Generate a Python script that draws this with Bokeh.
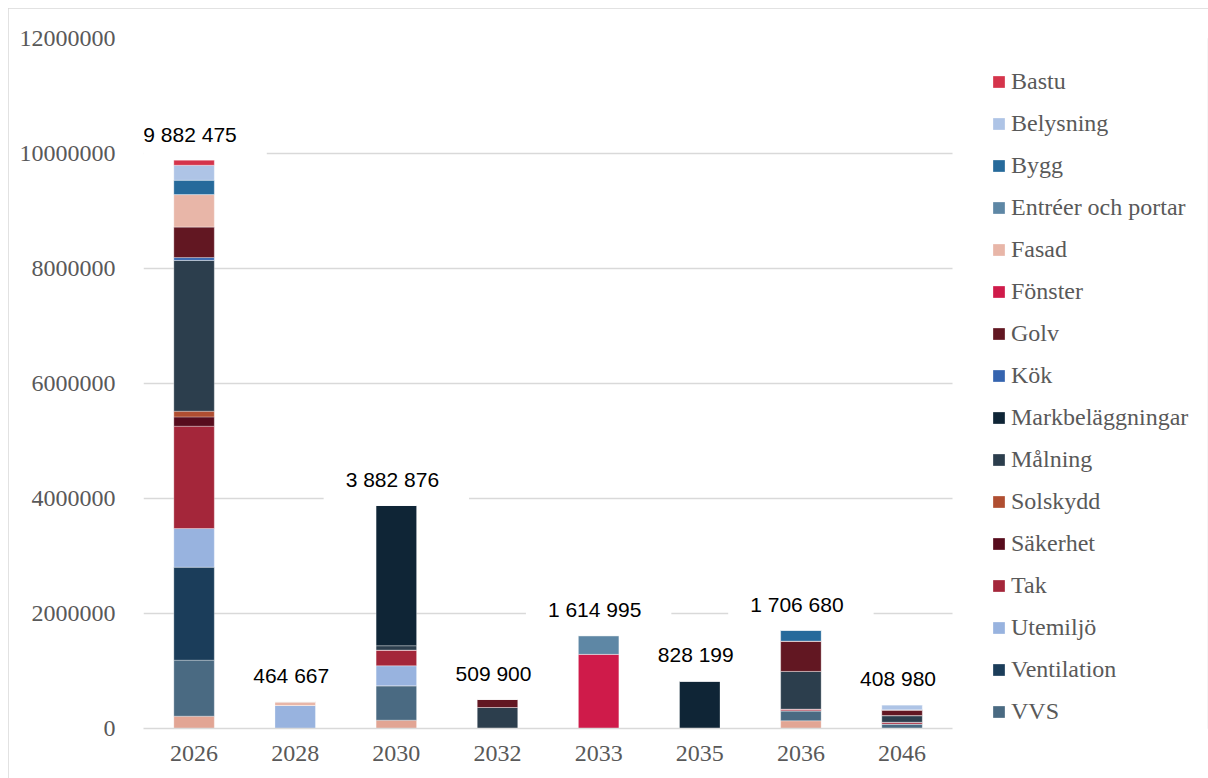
from bokeh.plotting import figure
from bokeh.models import (ColumnDataSource, Range1d, Legend, LegendItem,
                          Label, NumeralTickFormatter, FixedTicker)
from bokeh.embed import file_html
from bokeh.resources import INLINE

years = ["2026", "2028", "2030", "2032", "2033", "2035", "2036", "2046"]

# series values per year (SEK)
bastu       = [87000, 0, 0, 0, 0, 0, 0, 0]
belysning   = [261000, 0, 0, 0, 0, 0, 0, 85000]
bygg        = [249000, 0, 0, 0, 0, 0, 186000, 0]
entreer     = [0, 0, 0, 0, 325000, 0, 0, 0]
fasad       = [562000, 64667, 0, 0, 0, 0, 0, 0]
fonster     = [0, 0, 0, 0, 1289995, 0, 0, 0]
golv        = [534000, 0, 0, 145000, 0, 0, 527680, 100000]
kok         = [47000, 0, 0, 0, 0, 0, 0, 0]
markbel     = [0, 0, 2443876, 0, 0, 828199, 0, 0]
malning     = [2624475, 0, 75000, 364900, 0, 0, 656000, 115000]
solskydd    = [99000, 0, 0, 0, 0, 0, 0, 0]
sakerhet    = [162000, 0, 0, 0, 0, 0, 0, 0]
tak         = [1779000, 0, 273000, 0, 0, 0, 29000, 30000]
utemiljo    = [673000, 400000, 348000, 0, 0, 0, 0, 0]
ventilation = [1617000, 0, 0, 0, 0, 0, 0, 0]
vvs         = [974000, 0, 598000, 0, 0, 0, 174000, 78980]
ovrigt      = [214000, 0, 145000, 0, 0, 0, 134000, 0]   # series not shown in legend

legend_names = ["Bastu", "Belysning", "Bygg", "Entréer och portar", "Fasad", "Fönster",
                "Golv", "Kök", "Markbeläggningar", "Målning", "Solskydd", "Säkerhet",
                "Tak", "Utemiljö", "Ventilation", "VVS"]

series = {
    "ovrigt": ovrigt, "vvs": vvs, "ventilation": ventilation, "utemiljo": utemiljo,
    "tak": tak, "sakerhet": sakerhet, "solskydd": solskydd, "malning": malning,
    "markbel": markbel, "kok": kok, "golv": golv, "fonster": fonster, "fasad": fasad,
    "entreer": entreer, "bygg": bygg, "belysning": belysning, "bastu": bastu,
}
colors = {
    "ovrigt": "#E2A594", "vvs": "#4A6A82", "ventilation": "#1B3D5A", "utemiljo": "#98B3DF",
    "tak": "#A4263A", "sakerhet": "#570C1D", "solskydd": "#B04E31", "malning": "#2C3E4D",
    "markbel": "#0F2536", "kok": "#3564AF", "golv": "#621722", "fonster": "#CF1B4A",
    "fasad": "#E8B6A8", "entreer": "#5E87A5", "bygg": "#266A9B", "belysning": "#AEC4E6",
    "bastu": "#D5344B",
}
legend_keys = ["bastu", "belysning", "bygg", "entreer", "fasad", "fonster", "golv", "kok",
               "markbel", "malning", "solskydd", "sakerhet", "tak", "utemiljo",
               "ventilation", "vvs"]

stack_keys = list(series.keys())
xpos = [i + 0.5 for i in range(len(years))]
data = {"x": xpos}
data.update(series)
source = ColumnDataSource(data)

n = len(years)
p = figure(x_range=Range1d(0, 10.52), y_range=Range1d(0, 12000000),
           width=1200, height=770, output_backend="svg", toolbar_location=None,
           min_border_left=135, min_border_right=1, min_border_top=30,
           min_border_bottom=50)
p.margin = (8, 0, 0, 8)
p.outline_line_color = None
p.styles = {"outline": "1px solid #D9D9D9", "outline-offset": "-1px"}

renderers = p.vbar_stack(stack_keys, x="x", width=0.4, source=source,
                         color=[colors[k] for k in stack_keys],
                         line_color="white", line_alpha=0.3, line_width=1)
rmap = dict(zip(stack_keys, renderers))

# axes
p.yaxis.ticker = FixedTicker(ticks=list(range(0, 12000001, 2000000)))
p.yaxis.formatter = NumeralTickFormatter(format="0")
p.yaxis.axis_line_color = None
p.yaxis.major_tick_line_color = None
p.yaxis.minor_tick_line_color = None
p.yaxis.major_label_text_font = "Liberation Serif"
p.yaxis.major_label_text_font_size = "24px"
p.yaxis.major_label_text_color = "#595959"
p.yaxis.major_label_standoff = 22

p.xaxis.ticker = FixedTicker(ticks=xpos)
p.xaxis.major_label_overrides = {x: y for x, y in zip(xpos, years)}
p.xaxis.bounds = (0, n)
p.xaxis.axis_line_color = "#D9D9D9"
p.xaxis.axis_line_width = 1.3
p.xaxis.major_tick_line_color = None
p.xaxis.minor_tick_line_color = None
p.xaxis.major_label_text_font = "Liberation Serif"
p.xaxis.major_label_text_font_size = "24px"
p.xaxis.major_label_text_color = "#595959"
p.xaxis.major_label_standoff = 11

p.ygrid.grid_line_color = "#D9D9D9"
p.ygrid.grid_line_width = 1.3
p.ygrid.cross_bounds = (0, n)
p.xgrid.grid_line_color = None

# total labels
for i, yr in enumerate(years):
    total = sum(series[k][i] for k in stack_keys)
    txt = f"{total:,}".replace(",", " ")
    p.add_layout(Label(x=xpos[i], y=total, y_offset=26, text=txt,
                       text_align="center", text_baseline="middle",
                       text_font="Liberation Sans", text_font_size="21px",
                       text_color="#000000",
                       background_fill_color="white",
                       padding=dict(left=22, right=30, top=10, bottom=10)))

# legend
items = [LegendItem(label=name, renderers=[rmap[k]]) for name, k in zip(legend_names, legend_keys)]
legend = Legend(items=items, location=(848, 3), orientation="vertical",
                glyph_width=15, glyph_height=15, label_standoff=5, spacing=15,
                label_text_font="Liberation Serif", label_text_font_size="24px",
                label_text_color="#595959", label_height=24,
                padding=0, margin=0, border_line_color=None,
                background_fill_alpha=0)
p.add_layout(legend)

open("out.html", "w").write(file_html(p, INLINE))
